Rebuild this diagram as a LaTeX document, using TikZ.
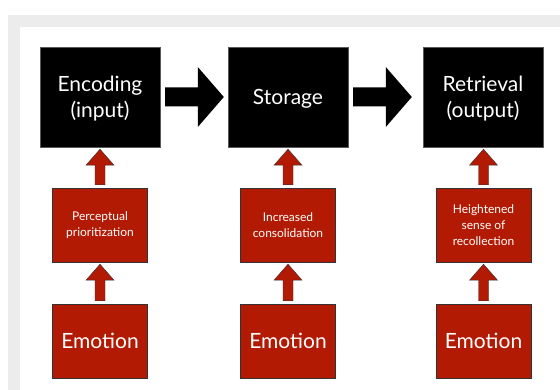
\documentclass[tikz,border=0pt]{standalone}
\usepackage{fontspec}
\setmainfont{Lato}
\usetikzlibrary{calc}

\definecolor{boxred}{RGB}{178,26,4}
\definecolor{framegrey}{RGB}{236,236,236}

\tikzset{
  stage/.style={draw=black!65, fill=black, text=white, minimum width=120pt, minimum height=100pt,
    inner sep=0pt, text depth=0pt, align=center, font=\fontsize{21}{26}\selectfont},
  effect/.style={draw=black!80, fill=boxred, text=white, minimum width=95pt, minimum height=74pt,
    inner sep=0pt, align=center, font=\fontsize{12}{16}\selectfont},
  emotion/.style={effect, font=\fontsize{21}{26}\selectfont},
  redarrow/.style={draw=black!80, fill=boxred, line join=miter},
}

% fat black arrow between two stages, #3 = gap before the target
\newcommand{\bigarrow}[3]{%
  \fill let \p1=($(#1.east)+(5pt,0)$), \p2=($(#2.west)+(-#3pt,0)$) in
    (\x1,\y1-9.5pt) -- (\x2-26pt,\y1-9.5pt) -- (\x2-26pt,\y1-30pt) -- (\x2,\y1)
    -- (\x2-26pt,\y1+30pt) -- (\x2-26pt,\y1+9.5pt) -- (\x1,\y1+9.5pt) -- cycle;}
% red arrow pointing up from one box to the next
\newcommand{\liftarrow}[2]{%
  \draw[redarrow] let \p1=($(#1.north)+(0,3pt)$), \p2=($(#2.south)+(0,-2pt)$) in
    (\x1-5pt,\y1) -- (\x1-5pt,\y2-16pt) -- (\x1-14pt,\y2-16pt) -- (\x1,\y2)
    -- (\x1+14pt,\y2-16pt) -- (\x1+5pt,\y2-16pt) -- (\x1+5pt,\y1) -- cycle;}

\begin{document}
\begin{tikzpicture}[x=1pt,y=-1pt]
    \useasboundingbox (0,0) rectangle (560,390);
    \fill[framegrey] (8,15) rectangle (560,390);
    \fill[white] (20,27) rectangle (560,390);

    \node[stage] (enc) at (100,97) {Encoding\\(input)};
    \node[stage] (sto) at (288,97) {Storage};
    \node[stage] (ret) at (483,97) {Retrieval\\(output)};

    \node[effect] (perc) at (100,225) {Perceptual\\prioritization};
    \node[effect] (cons) at (288,225) {Increased\\consolidation};
    \node[effect] (recol) at (483.5,225) {Heightened\\sense of\\recollection};

    \node[emotion] (emoa) at (100,341) {Emotion};
    \node[emotion] (emob) at (288,341) {Emotion};
    \node[emotion] (emoc) at (483.5,341) {Emotion};

    \bigarrow{enc}{sto}{4}
    \bigarrow{sto}{ret}{11}
    \foreach \a/\b in {perc/enc, cons/sto, recol/ret, emoa/perc, emob/cons, emoc/recol}
        \liftarrow{\a}{\b};
\end{tikzpicture}
\end{document}
